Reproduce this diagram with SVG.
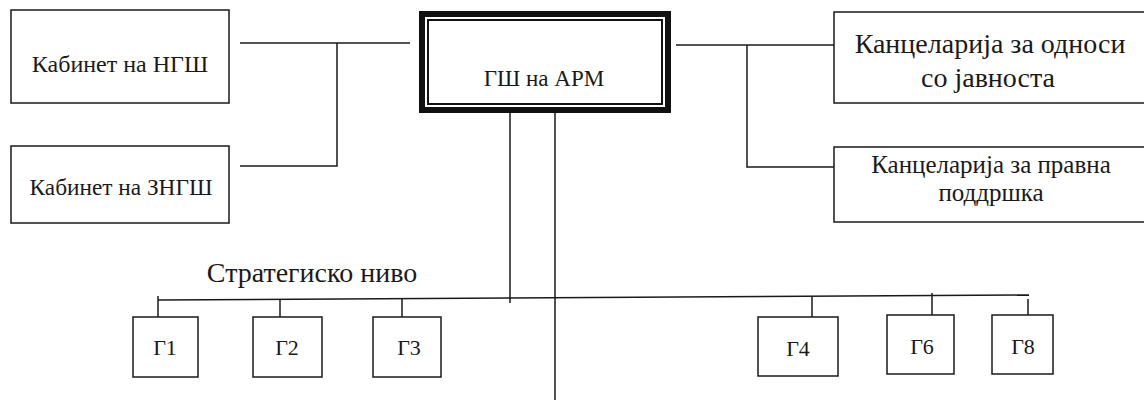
<svg xmlns="http://www.w3.org/2000/svg" width="1144" height="400" viewBox="0 0 1144 400">
<style>
.box{fill:#fff;stroke:#1a1a1a;stroke-width:1.5}
.ln{fill:none;stroke:#1a1a1a;stroke-width:1.5}
.t{font-family:"Liberation Serif",serif;fill:#1a1a1a;text-anchor:middle}
</style>
<rect width="1144" height="400" fill="#fff"/>
<g id="connectors">
<line class="ln" x1="240" y1="43" x2="410" y2="43"/>
<polyline class="ln" points="240,166 337,166 337,43"/>
<line class="ln" x1="676" y1="45" x2="842" y2="45"/>
<polyline class="ln" points="747,45 747,167 845,167"/>
<line class="ln" x1="510" y1="113" x2="510" y2="303"/>
<line class="ln" x1="555" y1="113" x2="555" y2="400"/>
<line class="ln" x1="158" y1="300" x2="1029" y2="295"/>
<line class="ln" x1="158" y1="296" x2="158" y2="318"/>
<line class="ln" x1="280" y1="299" x2="280" y2="324"/>
<line class="ln" x1="402" y1="299" x2="402" y2="325"/>
<line class="ln" x1="812" y1="297" x2="812" y2="320"/>
<line class="ln" x1="932" y1="293" x2="932" y2="318"/>
<line class="ln" x1="1028" y1="299" x2="1028" y2="324"/>
</g>
<g id="kab-ngsh">
<rect class="box" x="11" y="10" width="218" height="93"/>
<text class="t" x="120" y="72" font-size="24">Кабинет на НГШ</text>
</g>
<g id="kab-zngsh">
<rect class="box" x="11" y="146" width="218" height="77"/>
<text class="t" x="121" y="195" font-size="23.3">Кабинет на ЗНГШ</text>
</g>
<g id="gsh-arm">
<rect x="422" y="14" width="246" height="96" fill="#fff" stroke="#111" stroke-width="6"/>
<rect x="428" y="20" width="234" height="84" fill="none" stroke="#111" stroke-width="2"/>
<text class="t" x="544" y="86" font-size="23">ГШ на АРМ</text>
</g>
<g id="kanc-odnosi">
<rect class="box" x="834" y="12" width="320" height="91"/>
<text class="t" x="990" y="53" font-size="28">Канцеларија за односи</text>
<text class="t" x="988" y="87" font-size="28">со јавноста</text>
</g>
<g id="kanc-pravna">
<rect class="box" x="834" y="147" width="320" height="75"/>
<text class="t" x="991" y="173" font-size="25">Канцеларија за правна</text>
<text class="t" x="991" y="201" font-size="25">поддршка</text>
</g>
<text class="t" x="312" y="282" font-size="28">Стратегиско ниво</text>
<g id="g1"><rect class="box" x="133" y="317" width="65" height="60"/><text class="t" x="165" y="355" font-size="22">Г1</text></g>
<g id="g2"><rect class="box" x="253" y="317" width="69" height="60"/><text class="t" x="287" y="355" font-size="22">Г2</text></g>
<g id="g3"><rect class="box" x="373" y="317" width="68" height="60"/><text class="t" x="409" y="355" font-size="22">Г3</text></g>
<g id="g4"><rect class="box" x="758" y="317" width="80" height="59"/><text class="t" x="798" y="356" font-size="22">Г4</text></g>
<g id="g6"><rect class="box" x="887" y="315" width="67" height="59"/><text class="t" x="922" y="354" font-size="22">Г6</text></g>
<g id="g8"><rect class="box" x="992" y="315" width="61" height="59"/><text class="t" x="1023" y="354" font-size="22">Г8</text></g>
</svg>
